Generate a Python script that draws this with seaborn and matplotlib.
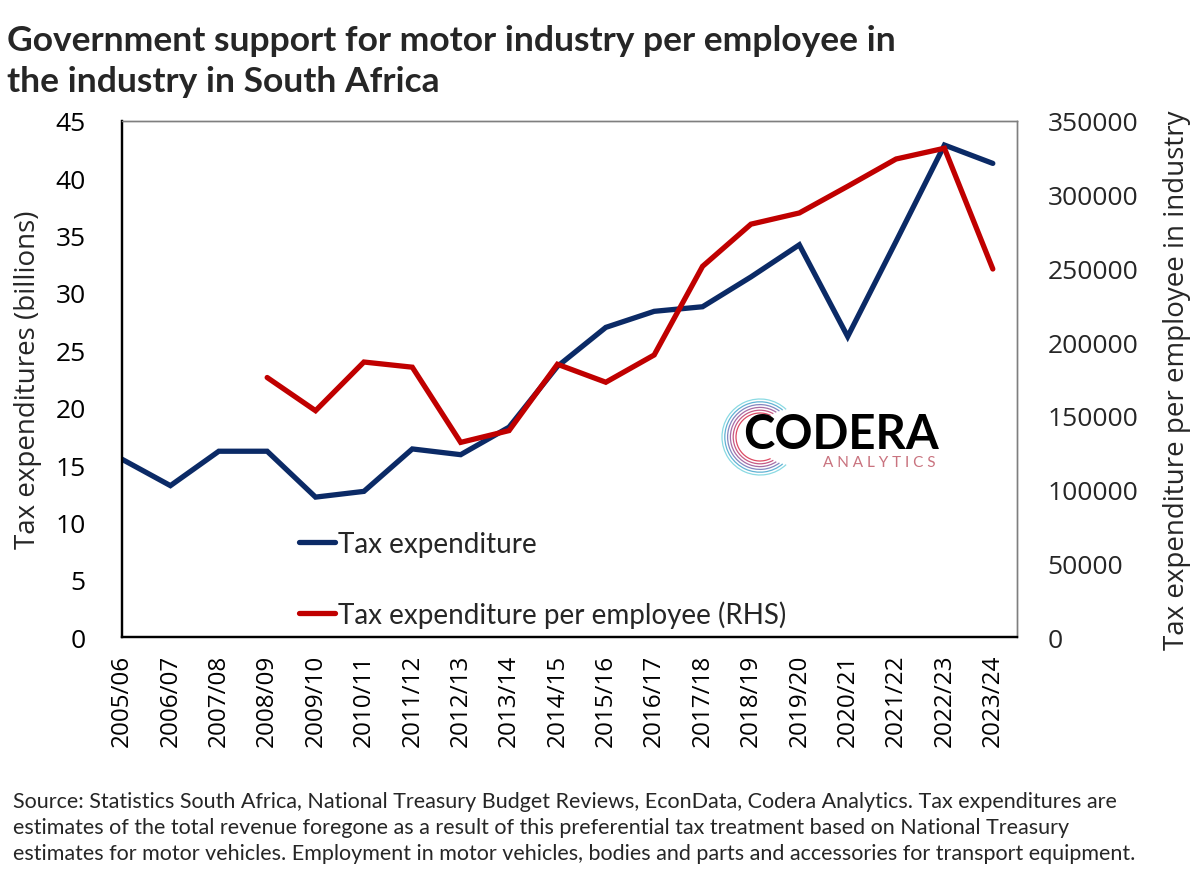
import numpy as np
import pandas as pd
import matplotlib.pyplot as plt
import seaborn as sns
from matplotlib.patches import Arc

sns.set_style("white")
plt.rcParams["font.family"] = ["Open Sans", "DejaVu Sans"]

years = ["2005/06", "2006/07", "2007/08", "2008/09", "2009/10", "2010/11",
         "2011/12", "2012/13", "2013/14", "2014/15", "2015/16", "2016/17",
         "2017/18", "2018/19", "2019/20", "2020/21", "2021/22", "2022/23",
         "2023/24"]
tax_exp = [15.5, 13.2, 16.2, 16.2, 12.2, 12.7, 16.4, 15.9, 18.3, 23.6,
           27.0, 28.4, 28.8, 31.4, 34.2, 26.2, 34.5, 42.9, 41.3]
per_emp_years = years[3:]
per_emp = [176000, 153500, 186500, 183000, 132000, 140000, 185000, 172800,
           191300, 251400, 280000, 287600, 305700, 324200, 331500, 249600]

NAVY = "#0B2A66"
RED = "#C00000"

df_tax = pd.DataFrame({"x": np.arange(len(years)), "val": tax_exp})
df_emp = pd.DataFrame({"x": [years.index(y) for y in per_emp_years], "val": per_emp})

fig = plt.figure(figsize=(12, 8.87), dpi=100)
ax = fig.add_axes([0.1017, 0.2807, 0.7458, 0.5818])
ax2 = ax.twinx()

sns.lineplot(data=df_tax, x="x", y="val", ax=ax, color=NAVY, linewidth=3.8,
             label="Tax expenditure", legend=False)
sns.lineplot(data=df_emp, x="x", y="val", ax=ax2, color=RED, linewidth=3.8,
             label="Tax expenditure per employee (RHS)", legend=False)
for ln in ax.lines + ax2.lines:
    ln.set_solid_capstyle("round")
    ln.set_solid_joinstyle("miter")

ax.set_xlim(0, len(years) - 0.5)
ax.set_ylim(0, 45)
ax2.set_ylim(0, 350000)
ax.set_yticks(np.arange(0, 46, 5))
ax2.set_yticks(np.arange(0, 350001, 50000))
ax2.set_yticklabels([str(v) for v in range(0, 350001, 50000)])
ax.set_xticks(np.arange(len(years)))
ax.set_xticklabels(years, rotation=90)

ax.tick_params(axis="both", length=0, labelsize=19, colors="black")
ax.tick_params(axis="y", pad=26)
ax.tick_params(axis="x", pad=12, labelsize=17.5)
ax2.tick_params(axis="y", length=0, labelsize=19, pad=22)

ax.set_xlabel("")
ax.set_ylabel("Tax expenditures (billions)", fontsize=20, labelpad=10)
ax2.set_ylabel("Tax expenditure per employee in industry", fontsize=20, labelpad=18)

for a in (ax, ax2):
    for side in ("top", "right"):
        a.spines[side].set_color("#7f7f7f")
        a.spines[side].set_linewidth(1.0)
    for side in ("left", "bottom"):
        a.spines[side].set_color("black")
        a.spines[side].set_linewidth(1.6)

handles = ax.get_lines()[:1] + ax2.get_lines()[:1]
leg = ax.legend(handles, [h.get_label() for h in handles], loc="lower left",
                bbox_to_anchor=(0.17, -0.03), frameon=False, handlelength=1.3,
                handletextpad=0.1, labelspacing=1.55,
                prop={"family": "Lato", "size": 20})

fig.text(0.006, 0.972, "Government support for motor industry per employee in\n"
         "the industry in South Africa", fontsize=25.5, fontweight="bold",
         family="Lato", va="top", ha="left", linespacing=1.36)

fig.text(0.011, 0.107,
         "Source: Statistics South Africa, National Treasury Budget Reviews, EconData, "
         "Codera Analytics. Tax expenditures are\nestimates of the total revenue foregone "
         "as a result of this preferential tax treatment based on National Treasury\n"
         "estimates for motor vehicles. Employment in motor vehicles, bodies and parts "
         "and accessories for transport equipment.",
         fontsize=15.5, family="Lato", va="top", ha="left", linespacing=1.38)

# logo
fig.text(0.619, 0.510, "CODERA", fontsize=34, fontweight="bold", family="Lato",
         va="center", ha="left", color="black")
fig.text(0.686, 0.478, "A N A L Y T I C S", fontsize=11, family="Lato",
         va="center", ha="left", color="#C9737F")
arc_cols = ["#DD4A63", "#C65A85", "#A76DA6", "#8487C0", "#62B3D4", "#8ADAE3"]
cx, cy = 760 / 1200, 1 - 438 / 887
for i, c in enumerate(arc_cols):
    r = 24 + i * 2.8
    fig.patches.append(Arc((cx, cy), 2 * r / 1200, 2 * r / 887, theta1=70 - i * 3,
                           theta2=290 + i * 3, color=c, lw=0.9,
                           transform=fig.transFigure))

fig.savefig("out.png", dpi=100, facecolor="white")
